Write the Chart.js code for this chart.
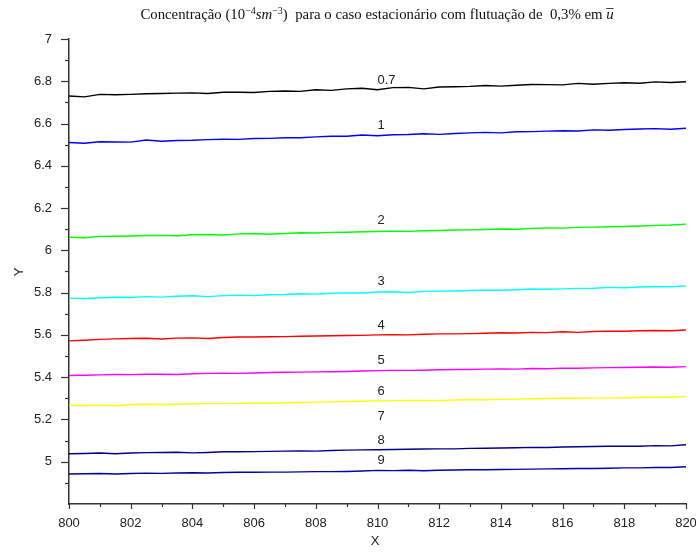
<!DOCTYPE html>
<html>
<head>
<meta charset="utf-8">
<script src="https://cdn.jsdelivr.net/npm/chart.js@4"></script>
<style>
  html, body { margin: 0; padding: 0; background: #fff; }
  canvas { display: block; }
</style>
</head>
<body>
<canvas id="chart" width="696" height="552"></canvas>
<script>
const xValues = [800, 800.5, 801, 801.5, 802, 802.5, 803, 803.5, 804, 804.5, 805, 805.5, 806, 806.5, 807, 807.5,
  808, 808.5, 809, 809.5, 810, 810.5, 811, 811.5, 812, 812.5, 813, 813.5, 814, 814.5, 815, 815.5,
  816, 816.5, 817, 817.5, 818, 818.5, 819, 819.5, 820];

const s07 = [6.730, 6.726, 6.738, 6.736, 6.738, 6.741, 6.742, 6.744, 6.745, 6.742, 6.748, 6.748, 6.747, 6.752, 6.754, 6.752,
  6.760, 6.757, 6.764, 6.767, 6.760, 6.770, 6.771, 6.764, 6.773, 6.774, 6.776, 6.780, 6.777, 6.781, 6.785, 6.784,
  6.783, 6.790, 6.786, 6.790, 6.793, 6.791, 6.797, 6.794, 6.798];
const s1 = [6.510, 6.507, 6.514, 6.513, 6.512, 6.522, 6.516, 6.520, 6.521, 6.524, 6.526, 6.525, 6.529, 6.530, 6.533, 6.533,
  6.537, 6.540, 6.540, 6.546, 6.542, 6.547, 6.548, 6.552, 6.549, 6.553, 6.556, 6.558, 6.556, 6.561, 6.562, 6.564,
  6.566, 6.565, 6.570, 6.568, 6.572, 6.574, 6.576, 6.573, 6.578];
const s2 = [6.062, 6.060, 6.066, 6.067, 6.068, 6.070, 6.071, 6.069, 6.074, 6.075, 6.073, 6.078, 6.080, 6.076, 6.080, 6.083,
  6.082, 6.085, 6.086, 6.088, 6.089, 6.091, 6.090, 6.093, 6.094, 6.096, 6.097, 6.099, 6.101, 6.100, 6.104, 6.106,
  6.105, 6.109, 6.110, 6.112, 6.113, 6.115, 6.118, 6.120, 6.124];
const s3 = [5.774, 5.772, 5.776, 5.778, 5.777, 5.781, 5.779, 5.783, 5.785, 5.781, 5.786, 5.788, 5.786, 5.790, 5.791, 5.795,
  5.793, 5.797, 5.799, 5.798, 5.803, 5.804, 5.801, 5.806, 5.807, 5.808, 5.810, 5.812, 5.811, 5.814, 5.817, 5.816,
  5.818, 5.820, 5.821, 5.825, 5.823, 5.827, 5.829, 5.828, 5.832];
const s4 = [5.572, 5.575, 5.579, 5.581, 5.583, 5.584, 5.581, 5.585, 5.586, 5.583, 5.588, 5.590, 5.590, 5.591, 5.592, 5.594,
  5.595, 5.596, 5.597, 5.598, 5.600, 5.601, 5.600, 5.603, 5.605, 5.605, 5.606, 5.608, 5.610, 5.609, 5.612, 5.611,
  5.615, 5.612, 5.616, 5.618, 5.617, 5.620, 5.621, 5.620, 5.623];
const s5 = [5.408, 5.409, 5.411, 5.413, 5.412, 5.414, 5.414, 5.413, 5.416, 5.418, 5.419, 5.418, 5.420, 5.422, 5.423, 5.424,
  5.425, 5.426, 5.427, 5.429, 5.431, 5.432, 5.432, 5.433, 5.435, 5.436, 5.436, 5.438, 5.439, 5.438, 5.441, 5.440,
  5.443, 5.442, 5.444, 5.445, 5.446, 5.447, 5.448, 5.447, 5.450];
const s6 = [5.266, 5.266, 5.268, 5.265, 5.271, 5.272, 5.271, 5.272, 5.274, 5.275, 5.275, 5.276, 5.277, 5.277, 5.279, 5.280,
  5.282, 5.283, 5.285, 5.286, 5.288, 5.289, 5.290, 5.290, 5.289, 5.292, 5.293, 5.293, 5.295, 5.296, 5.298, 5.299,
  5.300, 5.300, 5.301, 5.302, 5.302, 5.304, 5.305, 5.305, 5.308];
const s8 = [5.038, 5.039, 5.041, 5.038, 5.041, 5.043, 5.044, 5.045, 5.042, 5.044, 5.047, 5.047, 5.048, 5.049, 5.050, 5.051,
  5.050, 5.053, 5.055, 5.056, 5.057, 5.058, 5.059, 5.060, 5.061, 5.061, 5.063, 5.064, 5.065, 5.066, 5.068, 5.067,
  5.070, 5.071, 5.072, 5.073, 5.074, 5.073, 5.076, 5.075, 5.080];
const s9 = [4.942, 4.943, 4.944, 4.942, 4.944, 4.946, 4.945, 4.947, 4.948, 4.947, 4.949, 4.950, 4.950, 4.951, 4.951, 4.952,
  4.953, 4.953, 4.954, 4.956, 4.959, 4.958, 4.960, 4.957, 4.960, 4.961, 4.962, 4.962, 4.963, 4.964, 4.965, 4.966,
  4.967, 4.968, 4.968, 4.969, 4.971, 4.971, 4.973, 4.973, 4.976];

const seriesNames = ['0.7', '1', '2', '3', '4', '5', '6', '8', '9'];
const seriesValues = [s07, s1, s2, s3, s4, s5, s6, s8, s9];
const seriesColors = ['#000000', '#0000ff', '#00ff00', '#00ffff', '#ff0000', '#ff00ff', '#ffff00', '#00008b', '#0000a8'];

// curve labels (text, x, y in data units)
const labelTexts = ['0.7', '1', '2', '3', '4', '5', '6', '7', '8', '9'];
const labelX = 810;
const labelY = [6.806, 6.589, 6.140, 5.851, 5.643, 5.478, 5.331, 5.213, 5.099, 5.005];

const SANS = '"Liberation Sans", Arial, sans-serif';
const SERIF = '"Liberation Serif", "DejaVu Serif", serif';

const datasets = seriesValues.map((vals, i) => ({
  label: seriesNames[i],
  data: vals.map((v, j) => ({ x: xValues[j], y: v })),
  borderColor: seriesColors[i],
  borderWidth: 1.4,
  pointRadius: 0,
  tension: 0,
}));

const decor = {
  id: 'decor',
  afterDraw(chart) {
    const { ctx, scales: { x, y } } = chart;
    ctx.save();
    ctx.strokeStyle = '#333';
    ctx.lineWidth = 1.2;
    // y ticks
    for (let k = 49; k <= 70; k++) {
      const py = Math.round(y.getPixelForValue(k / 10)) + 0.5;
      const len = k % 2 === 0 ? 8 : 4;
      ctx.beginPath();
      ctx.moveTo(x.left, py);
      ctx.lineTo(x.left - len, py);
      ctx.stroke();
    }
    // x ticks
    for (let k = 800; k <= 820; k++) {
      const px = Math.round(x.getPixelForValue(k)) + 0.5;
      const len = k % 2 === 0 ? 5 : 3;
      ctx.beginPath();
      ctx.moveTo(px, y.bottom);
      ctx.lineTo(px, y.bottom + len);
      ctx.stroke();
    }

    // curve labels
    ctx.fillStyle = '#222';
    ctx.font = '13px ' + SANS;
    ctx.textAlign = 'left';
    ctx.textBaseline = 'middle';
    labelTexts.forEach((t, i) => {
      ctx.fillText(t, x.getPixelForValue(labelX), y.getPixelForValue(labelY[i]));
    });

    // axis titles
    ctx.textAlign = 'center';
    ctx.fillText('X', 375, 541);
    ctx.save();
    ctx.translate(19, 272);
    ctx.rotate(-Math.PI / 2);
    ctx.fillText('Y', 0, 0);
    ctx.restore();

    // title with superscripts
    const size = 14.8;
    const parts = [
      { t: 'Concentração (10', f: size + 'px ' + SERIF, dy: 0 },
      { t: '−4', f: '10px ' + SERIF, dy: -5.5 },
      { t: 'sm', f: 'italic ' + size + 'px ' + SERIF, dy: 0 },
      { t: '−3', f: '10px ' + SERIF, dy: -5.5 },
      { t: ')  para o caso estacionário com flutuação de  0,3% em ', f: size + 'px ' + SERIF, dy: 0 },
      { t: 'u', f: 'italic ' + size + 'px ' + SERIF, dy: 0, bar: true },
    ];
    let total = 0;
    parts.forEach((p) => { ctx.font = p.f; p.w = ctx.measureText(p.t).width; total += p.w; });
    let cx = 377 - total / 2;
    const base = 19;
    ctx.textAlign = 'left';
    ctx.textBaseline = 'alphabetic';
    ctx.fillStyle = '#111';
    parts.forEach((p) => {
      ctx.font = p.f;
      ctx.fillText(p.t, cx, base + p.dy);
      if (p.bar) {
        ctx.beginPath();
        ctx.lineWidth = 0.8;
        ctx.strokeStyle = '#111';
        ctx.moveTo(cx, base - 10.5);
        ctx.lineTo(cx + p.w, base - 10.5);
        ctx.stroke();
      }
      cx += p.w;
    });
    ctx.restore();
  },
};

new Chart(document.getElementById('chart'), {
  type: 'line',
  data: { datasets },
  options: {
    responsive: false,
    animation: false,
    devicePixelRatio: 1,
    layout: { padding: { left: 0, top: 39, right: 0, bottom: 0 } },
    plugins: { legend: { display: false }, tooltip: { enabled: false }, title: { display: false } },
    scales: {
      x: {
        type: 'linear',
        min: 800,
        max: 820,
        grid: { display: false },
        border: { display: true, color: '#333', width: 1.5 },
        ticks: {
          stepSize: 2,
          padding: 4,
          color: '#222',
          font: { size: 13, family: SANS },
          maxRotation: 0,
          callback: (v) => v,
        },
        afterFit: (s) => { s.height = 48; s.paddingRight = 10; },
      },
      y: {
        min: 4.8,
        max: 7,
        grid: { display: false },
        border: { display: true, color: '#333', width: 1.5 },
        ticks: {
          stepSize: 0.2,
          padding: 9,
          color: '#222',
          font: { size: 13, family: SANS },
          callback: (v) => (v < 4.9 ? '' : Math.round(v * 10) / 10),
        },
        afterFit: (s) => { s.width = 69; },
      },
    },
  },
  plugins: [decor],
});
</script>
</body>
</html>
